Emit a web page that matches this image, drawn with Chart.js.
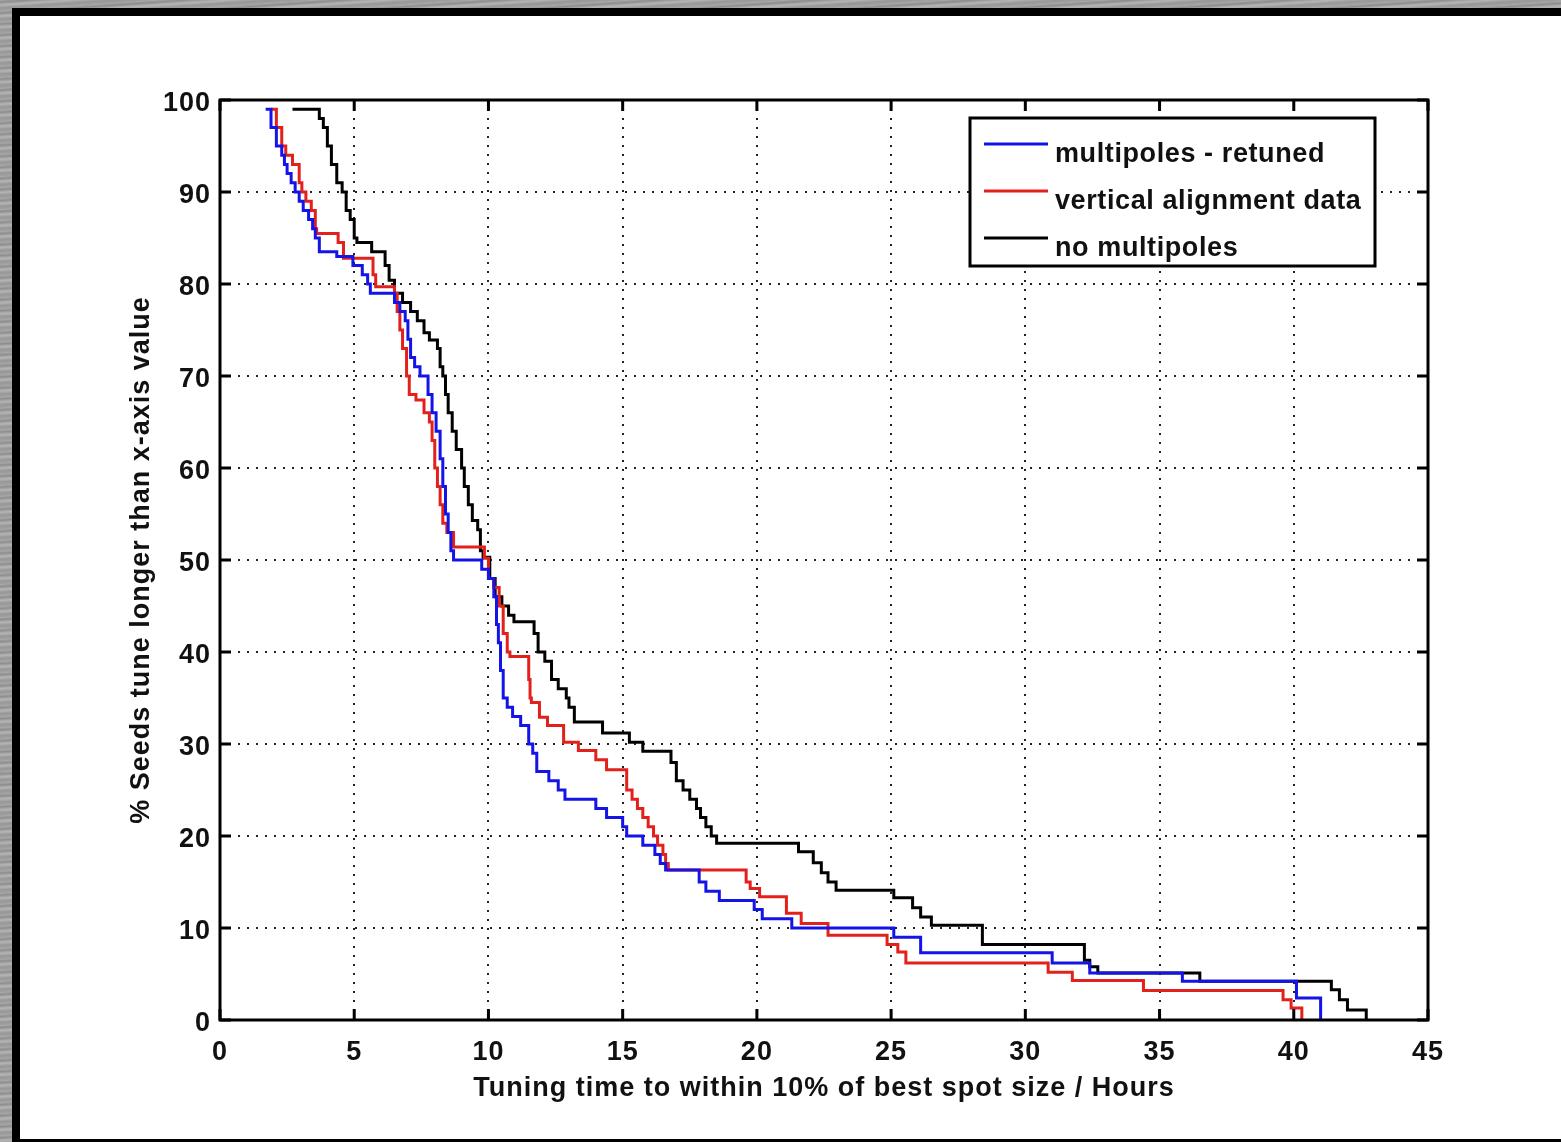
<!DOCTYPE html>
<html>
<head>
<meta charset="utf-8">
<title>Tuning time</title>
<script src="https://cdn.jsdelivr.net/npm/chart.js@4.4.1/dist/chart.umd.min.js"></script>
<style>
  html, body { margin:0; padding:0; }
  body {
    width:1561px; height:1142px; overflow:hidden; position:relative;
    background: repeating-linear-gradient(176deg, #a9a9a9 0px, #8d8d8d 2px, #b5b5b5 5px, #979797 8px, #a3a3a3 11px);
  }
  #panel {
    position:absolute; left:12px; top:8px; width:1600px; height:1139px;
    box-sizing:border-box; border:8px solid #000; background:#fff;
  }
  #wrap { position:absolute; left:0; top:0; width:1561px; height:1142px; }
</style>
</head>
<body>
<div id="panel"></div>
<div id="wrap"><canvas id="chart"></canvas></div>
<script>
// x ticks (hours) and y ticks (%)
var xTicks = [0, 5, 10, 15, 20, 25, 30, 35, 40, 45];
var yTicks = [0, 10, 20, 30, 40, 50, 60, 70, 80, 90, 100];

var seriesNames = ['multipoles - retuned', 'vertical alignment data', 'no multipoles'];
var seriesColors = ['#1414e6', '#e3211c', '#000000'];

// multipoles - retuned (blue): hour where level starts, % level
var blueHours = [1.7,1.9,2.1,2.3,2.4,2.5,2.65,2.8,2.95,3.1,3.3,3.45,3.55,3.7,4.35,4.95,5.3,5.5,5.6,6.5,6.7,6.9,7.0,7.1,7.25,7.45,7.75,7.9,8.05,8.2,8.3,8.4,8.5,8.6,8.7,9.75,10.0,10.2,10.3,10.37,10.45,10.55,10.7,10.9,11.2,11.5,11.65,11.8,12.25,12.6,12.85,14.0,14.4,15.0,15.15,15.75,16.2,16.4,16.6,17.85,18.1,18.6,19.9,20.2,21.3,25.1,26.1,31.0,32.4,35.85,40.1,41.0];
var bluePct   = [99,97,95,94,93,92,91,90,89,88,87,86,85,83.5,83,82,81,80,79,78,77,76,74,72,71,70,68,66,64,61,58,55,53,51,50,49,48,46,43,41,38,35,34,33,32,30,29,27,26,25,24,23,22,21,20,19,18,17,16.3,15,14,13,12,11,10,9,7.3,6.2,5.1,4.2,2.4,0];

// vertical alignment data (red)
var redHours = [1.9,2.1,2.3,2.45,2.7,2.95,3.05,3.2,3.4,3.55,3.6,4.4,4.6,5.7,5.8,6.5,6.6,6.7,6.8,6.95,7.05,7.3,7.6,7.8,7.9,8.0,8.1,8.2,8.3,8.45,8.7,9.85,10.0,10.2,10.4,10.55,10.7,10.8,11.5,11.55,11.6,11.9,12.2,12.8,13.35,14.0,14.4,15.15,15.35,15.55,15.75,15.95,16.15,16.3,16.5,16.6,16.7,19.6,19.75,20.1,21.1,21.65,22.65,24.85,25.25,25.55,30.85,31.75,34.4,39.6,39.9,40.3];
var redPct   = [99,97,95,94,93,91,90,89,88,86,85.5,84.5,82.8,81,79.7,79,77,75,73,70,68,67.4,66,65,63,60,58,56,54,53,51.4,50.2,48,47,45,42,40,39.5,37,35,34.5,32.9,32,30.2,29.3,28.3,27.2,25,24,23,22,21,20,19,18,17,16.3,15,14.3,13.4,11.6,10.5,9.2,8.2,7.4,6.2,5.2,4.3,3.2,2.2,1.3,0];

// no multipoles (black)
var blackHours = [2.7,3.7,3.85,4.0,4.15,4.35,4.55,4.7,4.85,5.0,5.1,5.65,6.15,6.3,6.5,6.8,7.1,7.35,7.6,7.8,8.1,8.2,8.3,8.4,8.5,8.65,8.8,9.0,9.1,9.25,9.4,9.6,9.7,9.8,10.05,10.25,10.5,10.75,10.95,11.7,11.85,12.1,12.35,12.6,12.9,13.0,13.2,14.25,15.25,15.75,16.8,17.0,17.25,17.5,17.75,17.9,18.1,18.3,18.5,21.55,22.1,22.4,22.65,22.95,25.1,25.8,26.1,26.5,28.4,32.2,32.4,32.7,36.5,41.4,41.7,42.0,42.7];
var blackPct   = [99,98,97,95,93,91,90,88,87,85,84.5,83.5,82,80.4,79,78,77,76,74.7,73.9,73,71,70,68,66,64,62,60,58,56,54.3,53.3,51,50.3,48,46,45,44,43.3,42,40,39,37,36,35,34,32.4,31.2,30.2,29.2,28,26,25,24,23,22,21,20,19.2,18.3,17.1,16,15,14.1,13.3,12.2,11.2,10.3,8.2,6.5,5.8,5.1,4.2,3.3,2.2,1.1,0];

function toPoints(xs, ys) {
    var pts = [];
    for (var i = 0; i < xs.length; i++) pts.push({x: xs[i], y: ys[i]});
    return pts;
}

var FONT = '"Liberation Sans", Arial, Helvetica, sans-serif';

// MATLAB style box, inward ticks and legend
var matlabBox = {
    id: 'matlabBox',
    beforeDraw: function(chart){
        // the old matlab text is spaced out a bit
        chart.ctx.letterSpacing = '1px';
    },
    afterDraw: function(chart){
        var ctx = chart.ctx, a = chart.chartArea;
        var xs = chart.scales.x, ys = chart.scales.y;
        ctx.save();
        ctx.strokeStyle = '#000';
        ctx.lineWidth = 3;
        ctx.strokeRect(a.left, a.top, a.right - a.left, a.bottom - a.top);
        ctx.beginPath();
        xTicks.forEach(function(v){
            var px = xs.getPixelForValue(v);
            ctx.moveTo(px, a.bottom); ctx.lineTo(px, a.bottom - 11);
            ctx.moveTo(px, a.top); ctx.lineTo(px, a.top + 11);
        });
        yTicks.forEach(function(v){
            var py = ys.getPixelForValue(v);
            ctx.moveTo(a.left, py); ctx.lineTo(a.left + 11, py);
            ctx.moveTo(a.right, py); ctx.lineTo(a.right - 11, py);
        });
        ctx.stroke();

        // legend
        var lx = 970, ly = 118, lw = 405, lh = 148;
        ctx.fillStyle = '#fff';
        ctx.fillRect(lx, ly, lw, lh);
        ctx.lineWidth = 3;
        ctx.strokeRect(lx, ly, lw, lh);
        ctx.font = 'bold 27px ' + FONT;
        ctx.letterSpacing = '0.6px';
        ctx.textBaseline = 'alphabetic';
        ctx.textAlign = 'left';
        for (var i = 0; i < seriesNames.length; i++) {
            var y = 144 + i * 47;
            ctx.strokeStyle = seriesColors[i];
            ctx.lineWidth = 3;
            ctx.beginPath();
            ctx.moveTo(984, y); ctx.lineTo(1048, y);
            ctx.stroke();
            ctx.fillStyle = '#111';
            ctx.fillText(seriesNames[i], 1055, y + 18);
        }
        ctx.restore();
    }
};

var ctx = document.getElementById('chart').getContext('2d');
new Chart(ctx, {
    type: 'scatter',
    data: {
        datasets: [
            { label: seriesNames[0], data: toPoints(blueHours, bluePct), borderColor: seriesColors[0] },
            { label: seriesNames[1], data: toPoints(redHours, redPct), borderColor: seriesColors[1] },
            { label: seriesNames[2], data: toPoints(blackHours, blackPct), borderColor: seriesColors[2] }
        ].map(function(d){
            d.showLine = true; d.stepped = true; d.borderWidth = 3;
            d.pointRadius = 0; d.fill = false; d.backgroundColor = d.borderColor;
            return d;
        })
    },
    options: {
        responsive: true,
        maintainAspectRatio: false,
        animation: false,
        layout: { padding: { left: 0, top: 100, right: 133, bottom: 0 } },
        plugins: { legend: { display: false }, tooltip: { enabled: false } },
        scales: {
            x: {
                type: 'linear', min: 0, max: 45,
                afterBuildTicks: function(s){ s.ticks = xTicks.map(function(v){ return {value: v}; }); },
                afterFit: function(s){ s.height = 122; },
                grid: { color: '#222', lineWidth: 2, drawTicks: false },
                border: { display: false, dash: [2, 7] },
                ticks: { color: '#111', padding: 16, font: { family: FONT, size: 27, weight: 'bold' } },
                title: { display: true, text: 'Tuning time to within 10% of best spot size / Hours', color: '#111',
                         font: { family: FONT, size: 27, weight: 'bold' }, padding: { top: 0, bottom: 37 } }
            },
            y: {
                type: 'linear', min: 0, max: 100,
                afterBuildTicks: function(s){ s.ticks = yTicks.map(function(v){ return {value: v}; }); },
                afterFit: function(s){ s.width = 220; },
                grid: { color: '#222', lineWidth: 2, drawTicks: false },
                border: { display: false, dash: [2, 7] },
                ticks: { color: '#111', padding: 9, labelOffset: 4, font: { family: FONT, size: 27, weight: 'bold' } },
                title: { display: true, text: '% Seeds tune longer than x-axis value', color: '#111',
                         font: { family: FONT, size: 27, weight: 'bold' }, padding: { top: 125, bottom: 0 } }
            }
        }
    },
    plugins: [matlabBox]
});
</script>
</body>
</html>
